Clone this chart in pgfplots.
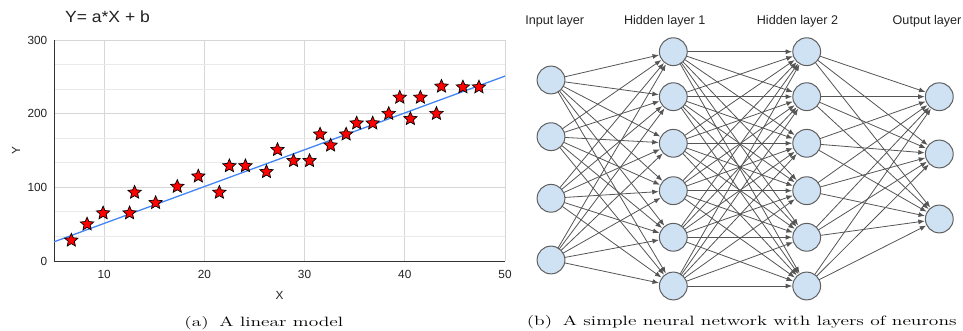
\documentclass[border=0pt]{standalone}
\usepackage{fontspec}
\newfontfamily\arial{Liberation Sans}
\usepackage{graphicx}
\usepackage{pgfplots}
\pgfplotsset{compat=1.18}
\usetikzlibrary{arrows.meta}
\definecolor{gsblue}{RGB}{66,133,244}
\definecolor{gridmaj}{RGB}{214,214,214}
\definecolor{gridmin}{RGB}{234,234,234}
\definecolor{axdark}{RGB}{51,51,51}
\definecolor{txt}{RGB}{34,34,34}
\definecolor{nodefill}{RGB}{207,226,243}
\definecolor{nodedraw}{RGB}{95,95,95}
\definecolor{edgecol}{RGB}{85,85,85}
\pgfdeclareplotmark{fstar}{%
  \pgfpathmoveto{\pgfpointpolar{90}{\pgfplotmarksize}}%
  \pgfpathlineto{\pgfpointpolar{126}{0.46\pgfplotmarksize}}%
  \pgfpathlineto{\pgfpointpolar{162}{\pgfplotmarksize}}%
  \pgfpathlineto{\pgfpointpolar{198}{0.46\pgfplotmarksize}}%
  \pgfpathlineto{\pgfpointpolar{234}{\pgfplotmarksize}}%
  \pgfpathlineto{\pgfpointpolar{270}{0.46\pgfplotmarksize}}%
  \pgfpathlineto{\pgfpointpolar{306}{\pgfplotmarksize}}%
  \pgfpathlineto{\pgfpointpolar{342}{0.46\pgfplotmarksize}}%
  \pgfpathlineto{\pgfpointpolar{18}{\pgfplotmarksize}}%
  \pgfpathlineto{\pgfpointpolar{54}{0.46\pgfplotmarksize}}%
  \pgfpathclose
  \pgfusepathqfillstroke}
\newcommand\capfont{\fontsize{13.5}{15}\selectfont}
\newcommand\tickfont{\arial\fontsize{11.8}{13}\selectfont}
\newcommand\netfont{\arial\fontsize{12.6}{14}\selectfont}
\newcommand\wide[1]{\scalebox{1.44}[1]{#1}}
\begin{document}
\begin{tikzpicture}[x=1pt,y=1pt]
\path[use as bounding box] (0,0) rectangle (963,331);
% ---------- (a) linear model ----------
\begin{axis}[
  at={(54pt,70pt)}, anchor=south west,
  scale only axis, width=451pt, height=221pt,
  xmin=5, xmax=50, ymin=0, ymax=300,
  xtick={10,20,30,40,50}, ytick={0,100,200,300},
  minor ytick={33.333,66.667,133.333,166.667,233.333,266.667},
  major tick length=0pt, minor tick length=0pt,
  grid=both,
  major grid style={gridmaj, line width=0.9pt},
  minor grid style={gridmin, line width=0.9pt},
  axis lines*=left,
  axis line style={axdark, line width=0.9pt},
  /pgf/number format/assume math mode=true,
  ticklabel style={font=\tickfont, text=txt},
  xticklabel style={anchor=center, yshift=-13pt, inner sep=0pt},
  yticklabel style={anchor=east, xshift=-6.5pt, inner sep=0pt},
  xlabel={X}, ylabel={Y},
  label style={font=\tickfont, text=txt},
  xlabel style={at={(axis description cs:0.5,-0.1538)}, anchor=center, inner sep=0pt},
  ylabel style={at={(axis description cs:-0.0843,0.5)}, anchor=center, inner sep=0pt},
  clip=false,
]
\addplot[gsblue, line width=1.3pt, mark=none] coordinates {(5,26) (50,251)};
\addplot[only marks, mark=fstar, mark size=7pt,
  mark options={fill=red, draw=black, line width=0.7pt}] coordinates {
(6.73,28) (8.3,50) (9.9,65) (12.54,65) (13.04,93) (15.14,79) (17.3,101)
(19.4,115) (21.5,93) (22.5,129) (24.1,129) (26.2,121) (27.3,151) (28.9,136)
(30.5,136) (31.55,172) (32.6,157) (34.15,172) (35.2,187) (36.8,187)
(38.4,200) (39.5,222) (40.56,193) (41.56,222) (43.16,200) (43.66,237)
(45.8,236) (47.4,236)};
\end{axis}
% ---------- (b) network + titles and captions ----------
\begin{axis}[
  at={(0pt,0pt)}, anchor=south west,
  scale only axis, width=963pt, height=331pt,
  xmin=0, xmax=963, ymin=0, ymax=331,
  hide axis, clip=false,
  edge/.style={edgecol, line width=0.8pt, mark=none,
     -{Latex[length=6.5pt,width=5pt]}, shorten >=14.6pt},
]
\foreach \ya in {251,194.3,132.7,71}{%
  \foreach \yb in {279.3,234.3,187.7,140.3,93.7,45}{%
    \edef\tmp{\noexpand\addplot[edge] coordinates {(551,\ya) (673.3,\yb)};}\tmp}}
\foreach \ya in {279.3,234.3,187.7,140.3,93.7,45}{%
  \foreach \yb in {279.3,234.3,187.7,140.3,93.7,45}{%
    \edef\tmp{\noexpand\addplot[edge] coordinates {(673.3,\ya) (806.7,\yb)};}\tmp}}
\foreach \ya in {279.3,234.3,187.7,140.3,93.7,45}{%
  \foreach \yb in {234.3,177,112}{%
    \edef\tmp{\noexpand\addplot[edge] coordinates {(806.7,\ya) (939.3,\yb)};}\tmp}}
\addplot[only marks, mark=*, mark size=13.9pt,
  mark options={fill=nodefill, draw=nodedraw, line width=1pt}] coordinates {
(551,251) (551,194.3) (551,132.7) (551,71)
(673.3,279.3) (673.3,234.3) (673.3,187.7) (673.3,140.3) (673.3,93.7) (673.3,45)
(806.7,279.3) (806.7,234.3) (806.7,187.7) (806.7,140.3) (806.7,93.7) (806.7,45)
(939.3,234.3) (939.3,177) (939.3,112)};
\node[font=\arial\fontsize{16.2}{18}\selectfont, text=txt, anchor=base west, inner sep=0pt] at (axis cs:65,308.5) {\scalebox{1.08}[1]{Y= a*X + b}};
\node[font=\netfont, text=txt, anchor=base, inner sep=0pt] at (axis cs:554.7,306) {Input layer};
\node[font=\netfont, text=txt, anchor=base, inner sep=0pt] at (axis cs:664.7,306) {Hidden layer 1};
\node[font=\netfont, text=txt, anchor=base, inner sep=0pt] at (axis cs:797.5,306) {Hidden layer 2};
\node[font=\netfont, text=txt, anchor=base, inner sep=0pt] at (axis cs:927,306) {Output layer};
\node[font=\capfont, anchor=base, inner sep=0pt] at (axis cs:263.8,4.5) {\wide{(a)\kern3pt\ A linear model}};
\node[font=\capfont, anchor=base, inner sep=0pt] at (axis cs:741.7,5.5) {\wide{(b)\kern3pt\ A simple neural network with layers of neurons}};
\end{axis}
\end{tikzpicture}
\end{document}
